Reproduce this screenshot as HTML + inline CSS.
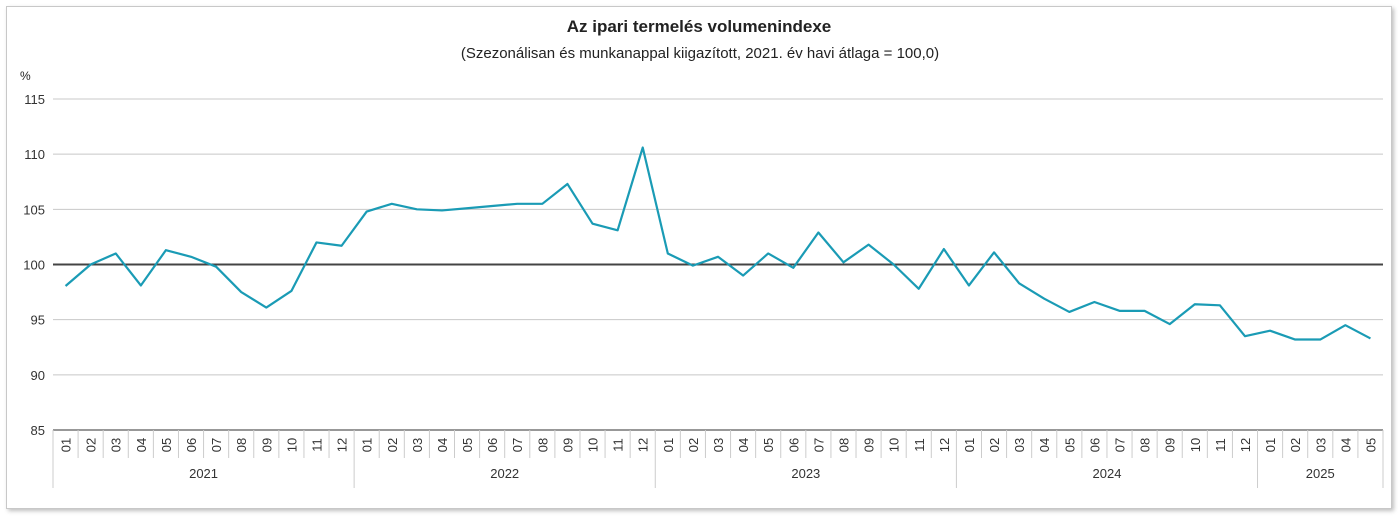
<!DOCTYPE html>
<html><head><meta charset="utf-8"><style>
body{margin:0;background:#fff;width:1398px;height:518px;overflow:hidden;font-family:"Liberation Sans",sans-serif}
#box{position:absolute;left:6px;top:6px;width:1384px;height:501px;border:1px solid #c8c8c8;box-shadow:2px 2px 4px rgba(0,0,0,0.25);background:#fff}
svg{position:absolute;left:0;top:0}
</style></head><body>
<div id="box"></div>
<svg id="chart" width="1398" height="518">
<text x="699" y="32" text-anchor="middle" font-size="17" font-weight="bold" fill="#222">Az ipari termelés volumenindexe</text>
<text x="700" y="58" text-anchor="middle" font-size="15" fill="#222">(Szezonálisan és munkanappal kiigazított, 2021. év havi átlaga = 100,0)</text>
<text x="20" y="80" font-size="12" fill="#222">%</text>
</svg>
<script>
const years=['2021','2022','2023','2024','2025'];
const monthsPerYear=[12,12,12,12,5];
const values=[98.05,100.0,101.0,98.1,101.3,100.7,99.8,97.5,96.1,97.6,102.0,101.7,
104.8,105.5,105.0,104.9,105.1,105.3,105.5,105.5,107.3,103.7,103.1,110.6,
101.0,99.9,100.7,99.0,101.0,99.7,102.9,100.2,101.8,100.0,97.8,101.4,
98.1,101.1,98.3,96.9,95.7,96.6,95.8,95.8,94.6,96.4,96.3,93.5,
94.0,93.2,93.2,94.5,93.3];
const yTicks=[85,90,95,100,105,110,115];
const svg=document.getElementById('chart');
const NS='http://www.w3.org/2000/svg';
const X0=53,X1=1383,Y0=430,Y1=99,YMIN=85,YMAX=115;
const n=values.length,cw=(X1-X0)/n;
const x=i=>X0+cw*(i+0.5);
const y=v=>Y0-(v-YMIN)/(YMAX-YMIN)*(Y0-Y1);
function mk(t,a){const e=document.createElementNS(NS,t);for(const k in a)e.setAttribute(k,a[k]);svg.appendChild(e);return e;}
yTicks.forEach(t=>{
 if(t!==85&&t!==100){const g=mk('line',{x1:X0,x2:X1,y1:y(t),y2:y(t),stroke:'#c8c8c8','stroke-width':1});
 
 }
 const l=mk('text',{x:45,y:y(t)+5,'text-anchor':'end','font-size':13,fill:'#333'});l.textContent=t;
 
 
});
const ax=mk('line',{x1:X0,x2:X1,y1:Y0,y2:Y0,stroke:'#777','stroke-width':1.5});


const ref=mk('line',{x1:X0,x2:X1,y1:y(100),y2:y(100),stroke:'#444','stroke-width':2});


let idx=0;
years.forEach((yr,yi)=>{
 const start=idx;
 for(let m=0;m<monthsPerYear[yi];m++){
  const xl=X0+cw*idx;
  const s=mk('line',{x1:xl,x2:xl,y1:Y0,y2:m===0?488:458,stroke:'#ccc','stroke-width':1});
  
  
  const mm=String(m+1).padStart(2,'0');
  const t=mk('text',{x:0,y:0,'font-size':13,fill:'#333','text-anchor':'middle',transform:`translate(${x(idx)+5},445) rotate(-90)`});
  t.textContent=mm;
  
  
  idx++;
 }
 const yl=mk('text',{x:X0+cw*(start+idx)/2,y:478,'text-anchor':'middle','font-size':13,fill:'#333'});
 yl.textContent=yr;
 
 
});
const e=mk('line',{x1:X1,x2:X1,y1:Y0,y2:488,stroke:'#ccc','stroke-width':1});


const p=mk('polyline',{points:values.map((v,i)=>x(i)+','+y(v)).join(' '),fill:'none',stroke:'#1a9bb5','stroke-width':2.2,'stroke-linejoin':'round'});


</script>
</body></html>
